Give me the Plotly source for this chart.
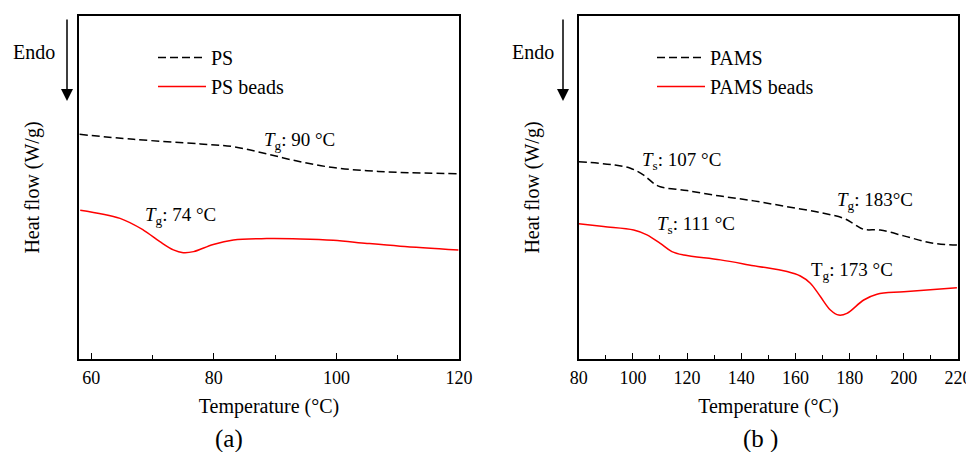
import plotly.graph_objects as go

# ---------------- data (y in arbitrary units) ----------------
ps_T = [58.1, 66.9, 77.8, 83.2, 88.6, 94.1, 99.5, 105.0, 110.4, 119.9]
ps_y = [65.5, 64.05, 62.7, 61.9, 59.8, 57.5, 55.8, 54.9, 54.4, 54.0]

psb_T = [58.2, 64.7, 68.5, 71.2, 73.4, 75.0, 76.7, 79.9, 83.2, 88.6, 94.1, 99.5, 105.0, 110.4, 119.9]
psb_y = [43.4, 41.0, 37.6, 34.2, 31.8, 31.0, 31.3, 33.4, 34.7, 35.1, 35.0, 34.6, 33.7, 32.9, 31.8]

pams_T = [80.0, 92.9, 99.1, 104.0, 107.7, 110.1, 120.0, 132.3, 144.6, 156.9, 169.2, 177.8,
          181.5, 185.2, 191.3, 200.0, 209.8, 219.6]
pams_y = [57.5, 56.6, 55.6, 53.6, 51.2, 50.2, 49.1, 47.5, 46.1, 44.4, 42.7, 41.0,
          39.4, 37.8, 37.6, 35.9, 33.9, 33.2]

pamsb_T = [80.0, 89.2, 100.3, 105.2, 110.1, 114.4, 118.8, 132.3, 144.6, 156.9, 161.8, 165.5,
           169.2, 172.9, 176.0, 179.0, 185.2, 190.1, 200.0, 219.6]
pamsb_y = [39.4, 38.6, 37.6, 36.2, 33.7, 31.3, 30.3, 28.9, 27.2, 25.5, 24.2, 22.1,
           18.2, 14.3, 12.8, 13.3, 17.2, 18.9, 19.6, 20.8]

ticks_a = [60, 80, 100, 120]
ticks_b = [80, 100, 120, 140, 160, 180, 200, 220]

FONT = "Times New Roman, Liberation Serif, serif"
W, H = 974, 444
OFF = 8  # page body margin offset in the browser

def px_x(p):
    return (p - OFF) / W

def px_y(p):
    return 1 - (p - OFF) / H

dom_a = [px_x(79), px_x(459)]
dom_b = [px_x(578.7), px_x(958)]
dom_y = [px_y(359), px_y(16)]

DASH = "8px,4px"

fig = go.Figure()

fig.add_trace(go.Scatter(x=ps_T, y=ps_y, mode="lines", name="PS",
                         line=dict(color="black", width=1.5, dash=DASH, shape="spline"),
                         xaxis="x", yaxis="y", legend="legend"))
fig.add_trace(go.Scatter(x=psb_T, y=psb_y, mode="lines", name="PS beads",
                         line=dict(color="#ff0000", width=1.5, shape="spline"),
                         xaxis="x", yaxis="y", legend="legend"))
fig.add_trace(go.Scatter(x=pams_T, y=pams_y, mode="lines", name="PAMS",
                         line=dict(color="black", width=1.5, dash=DASH, shape="spline"),
                         xaxis="x2", yaxis="y2", legend="legend2"))
fig.add_trace(go.Scatter(x=pamsb_T, y=pamsb_y, mode="lines", name="PAMS beads",
                         line=dict(color="#ff0000", width=1.5, shape="spline"),
                         xaxis="x2", yaxis="y2", legend="legend2"))

xcommon = dict(showline=True, linecolor="black", linewidth=1.5, mirror=True,
               ticks="inside", ticklen=6, tickwidth=1.2, tickcolor="black",
               showgrid=False, zeroline=False, automargin=False, ticklabelstandoff=2,
               tickfont=dict(family=FONT, size=18, color="black"),
               title=dict(text="Temperature (°C)", font=dict(family=FONT, size=20, color="black"),
                          standoff=12),
               minor=dict(ticks="inside", ticklen=4, tickwidth=1.2, tickcolor="black", dtick=10))
ycommon = dict(showline=True, linecolor="black", linewidth=1.5, mirror=True,
               ticks="", showticklabels=False, showgrid=False, zeroline=False,
               range=[0, 100], automargin=False,
               title=dict(text="Heat flow (W/g)", font=dict(family=FONT, size=20, color="black"),
                          standoff=32))

fig.update_layout(
    width=W, height=H,
    margin=dict(l=0, r=0, t=0, b=0, autoexpand=False),
    paper_bgcolor="white", plot_bgcolor="white",
    font=dict(family=FONT, color="black"),
    xaxis=dict(xcommon, domain=dom_a, range=[58, 120], tickvals=ticks_a, anchor="y"),
    yaxis=dict(ycommon, domain=dom_y, anchor="x"),
    xaxis2=dict(xcommon, domain=dom_b, range=[80, 220], tickvals=ticks_b, anchor="y2"),
    yaxis2=dict(ycommon, domain=dom_y, anchor="x2"),
    legend=dict(x=px_x(153), y=px_y(38), xanchor="left", yanchor="top",
                bgcolor="rgba(0,0,0,0)", font=dict(family=FONT, size=20, color="black"),
                tracegroupgap=0, itemwidth=48),
    legend2=dict(x=px_x(652), y=px_y(38), xanchor="left", yanchor="top",
                 bgcolor="rgba(0,0,0,0)", font=dict(family=FONT, size=20, color="black"),
                 tracegroupgap=0, itemwidth=48),
    showlegend=True,
)

ann_font = dict(family=FONT, size=19, color="black")
notes = [
    ("x", "y", 87.9, 63.6, "<i>T</i><sub>g</sub>: 90 °C"),
    ("x", "y", 68.4, 41.7, "<i>T</i><sub>g</sub>: 74 °C"),
    ("x2", "y2", 102.6, 57.7, "<i>T</i><sub>s</sub>: 107 °C"),
    ("x2", "y2", 174.6, 46.1, "<i>T</i><sub>g</sub>: 183°C"),
    ("x2", "y2", 108.2, 39.1, "<i>T</i><sub>s</sub>: 111 °C"),
    ("x2", "y2", 165.0, 25.7, "T<sub>g</sub>: 173 °C"),
]
for xr, yr, xv, yv, txt in notes:
    fig.add_annotation(x=xv, y=yv, xref=xr, yref=yr, text=txt, showarrow=False,
                       xanchor="left", yanchor="middle", font=ann_font)

# Endo arrows and labels
for ax_px, lab_px in [(67, 34), (563, 533)]:
    fig.add_annotation(x=px_x(ax_px), y=px_y(101), xref="paper", yref="paper",
                       ax=0, ay=-83, axref="pixel", ayref="pixel",
                       text="", showarrow=True, arrowhead=2, arrowsize=1.6,
                       arrowwidth=1.5, arrowcolor="black")
    fig.add_annotation(x=px_x(lab_px), y=px_y(52), xref="paper", yref="paper",
                       text="Endo", showarrow=False, xanchor="center", yanchor="middle",
                       font=dict(family=FONT, size=20, color="black"))

# panel labels
for cx, lab in [(229, "(a)"), (760, "(b )")]:
    fig.add_annotation(x=px_x(cx), y=px_y(439), xref="paper", yref="paper",
                       text=lab, showarrow=False, xanchor="center", yanchor="middle",
                       font=dict(family=FONT, size=25, color="black"))

fig.write_html("out.html")
